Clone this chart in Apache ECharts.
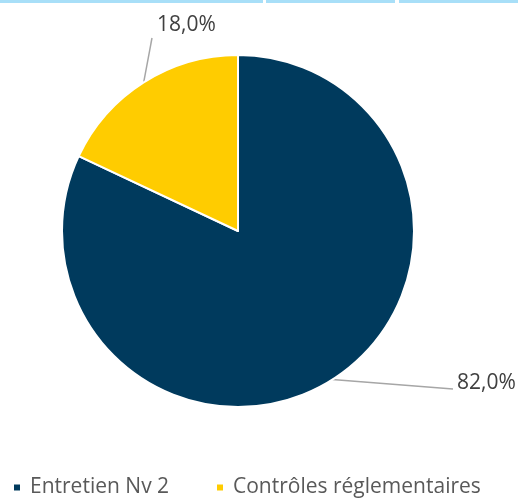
<!DOCTYPE html>
<html><head><meta charset="utf-8">
<script src="https://cdn.jsdelivr.net/npm/echarts@6/dist/echarts.min.js"></script>
<style>html,body{margin:0;padding:0;background:#fff}#c{width:518px;height:498px}</style>
</head><body><div id="c"></div>
<script>
const categories = ['Entretien Nv 2', 'Contrôles réglementaires'];
const values = [82.0, 18.0];
const colors = ['#003A5D', '#FFCC00'];
const font = '"Open Sans", "Liberation Sans", Arial, sans-serif';
const chart = echarts.init(document.getElementById('c'));
const labelPos = {
  0: {x: 457, y: 383, lineEnd: [453, 389]},
  1: {x: 157, y: 25, lineEnd: [152, 38]}
};
chart.setOption({
  animation: false,
  backgroundColor: '#fff',
  graphic: [
    {type: 'rect', shape: {x: 0, y: 0, width: 263, height: 3}, style: {fill: '#A8DFF8'}},
    {type: 'rect', shape: {x: 266, y: 0, width: 129, height: 3}, style: {fill: '#A8DFF8'}},
    {type: 'rect', shape: {x: 399, y: 0, width: 119, height: 3}, style: {fill: '#A8DFF8'}}
  ],
  legend: [
    {data: [categories[0]], left: 12, top: 477, padding: 0, icon: 'rect', itemWidth: 8, itemHeight: 8, itemGap: 0,
     textStyle: {fontFamily: font, fontSize: 21, color: '#595959', padding: [0, 0, 0, 4]}},
    {data: [categories[1]], left: 215, top: 477, padding: 0, icon: 'rect', itemWidth: 8, itemHeight: 8, itemGap: 0,
     textStyle: {fontFamily: font, fontSize: 21, color: '#595959', padding: [0, 0, 0, 4]}}
  ],
  series: [{
    type: 'pie',
    center: [238, 231],
    radius: [0, 176],
    startAngle: 90,
    clockwise: true,
    data: categories.map((n, i) => ({name: n, value: values[i], itemStyle: {color: colors[i]}})),
    itemStyle: {borderColor: '#fff', borderWidth: 2},
    label: {show: true, formatter: p => p.value.toFixed(1).replace('.', ',') + '%',
      fontFamily: font, fontSize: 21, color: '#404040'},
    labelLine: {show: true, length: 20, length2: 20, smooth: false, lineStyle: {color: '#A6A6A6', width: 1.5}},
    labelLayout: function (p) {
      const lp = labelPos[p.dataIndex];
      const res = {x: lp.x, y: lp.y, align: 'left', verticalAlign: 'middle'};
      if (p.labelLinePoints && p.labelLinePoints.length) {
        const a = p.labelLinePoints[0];
        const b = lp.lineEnd;
        res.labelLinePoints = [[a[0], a[1]], [(a[0] + b[0]) / 2, (a[1] + b[1]) / 2], [b[0], b[1]]];
      }
      return res;
    }
  }]
});
</script></body></html>
